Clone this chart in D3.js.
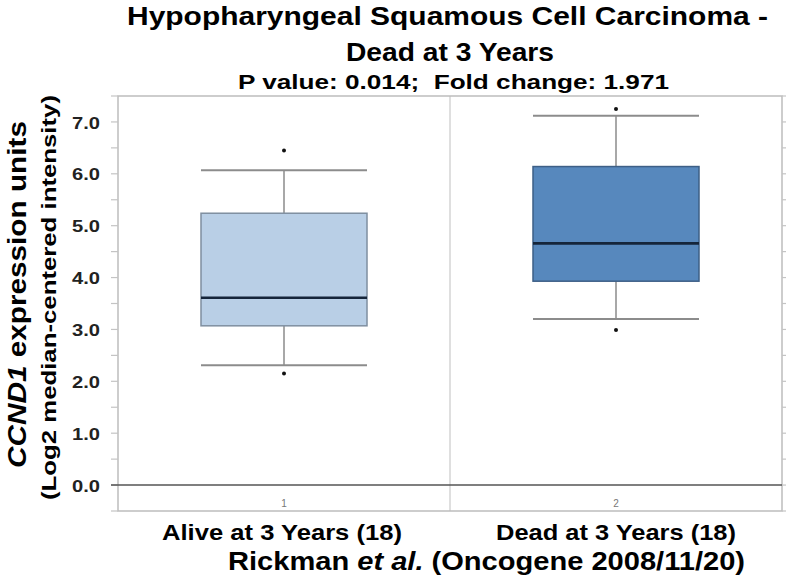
<!DOCTYPE html>
<html><head><meta charset="utf-8">
<script src="https://cdn.jsdelivr.net/npm/d3@7"></script>
<style>body{margin:0;background:#fff} svg{display:block} text{white-space:pre}</style>
</head><body><svg id="c" width="787" height="581"></svg>
<script>
// ---- data ----
const categories = ["1", "2"];
const groupLabels = ["Alive at 3 Years (18)", "Dead at 3 Years (18)"];
const whiskerLow  = [2.31, 3.20];
const q1          = [3.07, 3.93];
const median      = [3.61, 4.66];
const q3          = [5.24, 6.14];
const whiskerHigh = [6.07, 7.12];
const outlierHigh = [6.45, 7.25];
const outlierLow  = [2.15, 2.99];
const yTicks = [0, 1, 2, 3, 4, 5, 6, 7];
const yMinorTicks = [-0.5, 0, 0.5, 1, 1.5, 2, 2.5, 3, 3.5, 4, 4.5, 5, 5.5, 6, 6.5, 7, 7.5];
const boxFill = ["#b9cfe6", "#5788bd"];
const boxStroke = ["#7f8fa0", "#3d5f86"];
const titleLines = ["Hypopharyngeal Squamous Cell Carcinoma -", "Dead at 3 Years"];
const subtitle = "P value: 0.014;  Fold change: 1.971";

// ---- chart ----
(function () {
const svg = d3.select("#c");
const FONT = "'Liberation Sans', Arial, sans-serif";
const pL = 118, pR = 782, pT = 96, pB = 511;

const y = d3.scaleLinear().domain([-0.5, 7.5]).range([pB, pT]);
const x = d3.scaleBand().domain(categories).range([pL, pR]).paddingInner(0).paddingOuter(0);
const bw = x.bandwidth() / 2;

const data = categories.map((c, i) => ({
  c, lo: whiskerLow[i], q1: q1[i], med: median[i], q3: q3[i], hi: whiskerHigh[i],
  oh: outlierHigh[i], ol: outlierLow[i], fill: boxFill[i], stroke: boxStroke[i]
}));

// divider between groups
svg.append("line").attr("x1", x("2")).attr("x2", x("2")).attr("y1", pT).attr("y2", pB)
  .attr("stroke", "#d4d4d4").attr("stroke-width", 1.5);

// frame
svg.append("rect").attr("x", pL).attr("y", pT).attr("width", pR - pL).attr("height", pB - pT)
  .attr("fill", "none").attr("stroke", "#bdbdbd").attr("stroke-width", 1.5);

// minor ticks left and right
svg.append("g").selectAll("line").data(yMinorTicks).join("line")
  .attr("x1", pL - 7).attr("x2", pL).attr("y1", d => y(d)).attr("y2", d => y(d))
  .attr("stroke", "#c4c4c4").attr("stroke-width", 1.2);
svg.append("g").selectAll("line").data(yMinorTicks).join("line")
  .attr("x1", pR).attr("x2", pR + 4).attr("y1", d => y(d)).attr("y2", d => y(d))
  .attr("stroke", "#c4c4c4").attr("stroke-width", 1.2);

// y axis labels
const yAxis = svg.append("g").attr("transform", `translate(100,0)`)
  .call(d3.axisLeft(y).tickValues(yTicks).tickFormat(d3.format(".1f")).tickSize(0).tickPadding(0));
yAxis.select(".domain").remove();
yAxis.selectAll("text")
  .attr("font-family", FONT).attr("font-size", 17).attr("font-weight", "bold").attr("fill", "#222")
  .attr("dy", "0.36em")
  .attr("textLength", 28).attr("lengthAdjust", "spacingAndGlyphs");

// zero line
svg.append("line").attr("x1", pL - 7).attr("x2", pR).attr("y1", y(0)).attr("y2", y(0))
  .attr("stroke", "#555").attr("stroke-width", 1.6);

// category numbers
svg.append("g").selectAll("text").data(categories).join("text")
  .attr("x", d => x(d) + x.bandwidth() / 2).attr("y", 507)
  .attr("text-anchor", "middle").attr("font-family", FONT).attr("font-size", 10)
  .attr("fill", "#777").text(d => d);

// boxes
const g = svg.append("g").selectAll("g").data(data).join("g")
  .attr("transform", d => `translate(${x(d.c) + x.bandwidth() / 2},0)`);
g.append("line").attr("x1", 0).attr("x2", 0).attr("y1", d => y(d.hi)).attr("y2", d => y(d.q3))
  .attr("stroke", "#a8a8a8").attr("stroke-width", 2);
g.append("line").attr("x1", 0).attr("x2", 0).attr("y1", d => y(d.q1)).attr("y2", d => y(d.lo))
  .attr("stroke", "#a8a8a8").attr("stroke-width", 2);
g.append("line").attr("x1", -bw / 2).attr("x2", bw / 2).attr("y1", d => y(d.hi)).attr("y2", d => y(d.hi))
  .attr("stroke", "#8c8c8c").attr("stroke-width", 2);
g.append("line").attr("x1", -bw / 2).attr("x2", bw / 2).attr("y1", d => y(d.lo)).attr("y2", d => y(d.lo))
  .attr("stroke", "#8c8c8c").attr("stroke-width", 2);
g.append("rect").attr("x", -bw / 2).attr("width", bw)
  .attr("y", d => y(d.q3)).attr("height", d => y(d.q1) - y(d.q3))
  .attr("fill", d => d.fill).attr("stroke", d => d.stroke).attr("stroke-width", 1.5);
g.append("line").attr("x1", -bw / 2).attr("x2", bw / 2).attr("y1", d => y(d.med)).attr("y2", d => y(d.med))
  .attr("stroke", "#15253a").attr("stroke-width", 2.6);
g.append("circle").attr("cx", 0).attr("cy", d => y(d.oh)).attr("r", 2).attr("fill", "#111");
g.append("circle").attr("cx", 0).attr("cy", d => y(d.ol)).attr("r", 2).attr("fill", "#111");

// titles
function txt(s, xx, yy, size, len) {
  return svg.append("text").attr("x", xx).attr("y", yy).attr("font-family", FONT)
    .attr("font-size", size).attr("font-weight", "bold").attr("fill", "#000")
    .attr("textLength", len).attr("lengthAdjust", "spacingAndGlyphs").text(s);
}
txt(titleLines[0], 127, 25, 26, 641);
txt(titleLines[1], 346, 61, 26, 208);
txt(subtitle, 238, 89, 21, 431);

// group labels
const glx = [162, 496];
groupLabels.forEach((s, i) => txt(s, glx[i], 540, 22, 240));

// source line
const src = svg.append("text").attr("x", 228).attr("y", 570).attr("font-family", FONT)
  .attr("font-size", 26).attr("font-weight", "bold").attr("fill", "#000")
  .attr("textLength", 517).attr("lengthAdjust", "spacingAndGlyphs");
src.append("tspan").text("Rickman ");
src.append("tspan").attr("font-style", "italic").text("et al.");
src.append("tspan").text(" (Oncogene 2008/11/20)");

// y label
const yl1 = svg.append("text").attr("transform", "translate(26,468) rotate(-90)")
  .attr("font-family", FONT).attr("font-size", 25).attr("font-weight", "bold").attr("fill", "#000")
  .attr("textLength", 347).attr("lengthAdjust", "spacingAndGlyphs");
yl1.append("tspan").attr("font-style", "italic").text("CCND1");
yl1.append("tspan").text(" expression units");
svg.append("text").attr("transform", "translate(56,500) rotate(-90)")
  .attr("font-family", FONT).attr("font-size", 20).attr("font-weight", "bold").attr("fill", "#000")
  .attr("textLength", 405).attr("lengthAdjust", "spacingAndGlyphs")
  .text("(Log2 median-centered intensity)");
})();
</script></body></html>
